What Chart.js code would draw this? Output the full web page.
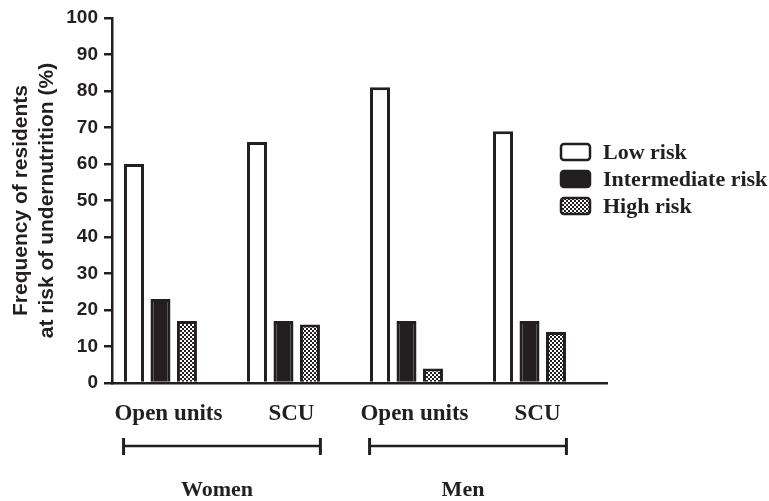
<!DOCTYPE html>
<html>
<head>
<meta charset="utf-8">
<script src="https://cdn.jsdelivr.net/npm/chart.js@4.4.0/dist/chart.umd.min.js"></script>
<style>
html, body { margin: 0; padding: 0; background: #fff; }
</style>
</head>
<body>
<canvas id="riskChart" width="769" height="501"></canvas>
<script>
// values (% of residents)
const units = ['Open units', 'SCU', 'Open units', 'SCU'];
const lowRisk = [60, 66, 81, 69];
const intermediateRisk = [23, 17, 17, 17];
const highRisk = [17, 16, 4, 14];
const seriesNames = ['Low risk', 'Intermediate risk', 'High risk'];
const sexGroups = ['Women', 'Men'];
const groupUnits = [[0, 1], [2, 3]];
const yTitle = ['Frequency of residents', 'at risk of undernutrition (%)'];

const ink = '#231f20';
const serif = '"Liberation Serif", "Times New Roman", serif';
const sans = '"Liberation Sans", Arial, sans-serif';

function checker() {
    const c = document.createElement('canvas');
    c.width = 4; c.height = 4;
    const g = c.getContext('2d');
    g.fillStyle = ink;
    g.fillRect(0, 0, 4, 4);
    g.fillStyle = '#fff';
    g.fillRect(0, 0, 2, 2);
    g.fillRect(2, 2, 2, 2);
    return g.createPattern(c, 'repeat');
}

const toPoints = arr => arr.map((v, i) => ({ x: i, y: v }));

// legend drawn inside the plot, at the right
const sideLegend = {
    id: 'sideLegend',
    afterDraw(chart) {
        const ctx = chart.ctx;
        ctx.save();
        chart.data.datasets.forEach((ds, i) => {
            const y = 152 + i * 27;
            ctx.beginPath();
            ctx.roundRect(561, y - 8, 29, 16, 3);
            ctx.fillStyle = ds.backgroundColor;
            ctx.fill();
            ctx.lineWidth = 2.5;
            ctx.strokeStyle = ink;
            ctx.stroke();
            ctx.fillStyle = ink;
            ctx.font = 'bold 22px ' + serif;
            ctx.textBaseline = 'middle';
            ctx.fillText(ds.label, 603, y + 1);
        });
        ctx.restore();
    }
};

// brackets under the unit labels
const groupBrackets = {
    id: 'groupBrackets',
    afterDraw(chart) {
        const ctx = chart.ctx;
        const x = chart.scales.x;
        ctx.save();
        ctx.strokeStyle = ink;
        ctx.fillStyle = ink;
        groupUnits.forEach((g, i) => {
            const mid = (g[0] + g[1]) / 2;
            const x1 = x.getPixelForValue(mid - 0.8);
            const x2 = x.getPixelForValue(mid + 0.8);
            const y = 446;
            ctx.lineWidth = 2.5;
            ctx.beginPath();
            ctx.moveTo(x1, y); ctx.lineTo(x2, y);
            ctx.stroke();
            ctx.lineWidth = 3;
            ctx.beginPath();
            ctx.moveTo(x1, y - 8); ctx.lineTo(x1, y + 9);
            ctx.moveTo(x2, y - 8); ctx.lineTo(x2, y + 9);
            ctx.stroke();
            ctx.font = 'bold 22px ' + serif;
            ctx.textAlign = 'center';
            ctx.textBaseline = 'middle';
            ctx.fillText(sexGroups[i], (x1 + x2) / 2 - 5, 490);
        });
        ctx.restore();
    }
};

const ctx = document.getElementById('riskChart').getContext('2d');
const riskChart = new Chart(ctx, {
    type: 'bar',
    data: {
        datasets: [{
            label: seriesNames[0],
            data: toPoints(lowRisk),
            backgroundColor: '#fff',
            borderColor: ink,
            borderWidth: 3
        }, {
            label: seriesNames[1],
            data: toPoints(intermediateRisk),
            backgroundColor: ink,
            borderColor: ink,
            borderWidth: 3
        }, {
            label: seriesNames[2],
            data: toPoints(highRisk),
            backgroundColor: checker(),
            borderColor: ink,
            borderWidth: 3
        }]
    },
    options: {
        responsive: false,
        animation: false,
        devicePixelRatio: 1,
        barPercentage: 0.755,
        categoryPercentage: 0.646,
        layout: { padding: { left: 0, top: 18, right: 162, bottom: 0 } },
        plugins: {
            legend: { display: false },
            tooltip: { enabled: false }
        },
        scales: {
            x: {
                type: 'linear',
                offset: false,
                min: -0.394,
                max: 3.63,
                afterBuildTicks: s => { s.ticks = units.map((u, i) => ({ value: i })); },
                afterFit: s => { s.height = 118; },
                ticks: {
                    callback: v => units[v],
                    autoSkip: false,
                    maxRotation: 0,
                    padding: 17,
                    labelOffset: 8,
                    color: ink,
                    font: { family: serif, weight: 'bold', size: 23 }
                },
                grid: { display: false, drawTicks: false, offset: false },
                border: { display: true, color: ink, width: 2.5 }
            },
            y: {
                min: 0,
                max: 100,
                afterFit: s => { s.width = 112; },
                ticks: {
                    stepSize: 10,
                    padding: 6,
                    color: ink,
                    font: { family: sans, weight: 'bold', size: 19 }
                },
                grid: {
                    drawOnChartArea: false,
                    drawTicks: true,
                    tickLength: 8,
                    color: ink,
                    lineWidth: 2.5
                },
                border: { color: ink, width: 2.5 },
                title: {
                    display: true,
                    text: yTitle,
                    color: ink,
                    padding: { top: 9, bottom: 0 },
                    font: { family: sans, weight: 'bold', size: 21 }
                }
            }
        }
    },
    plugins: [sideLegend, groupBrackets]
});
</script>
</body>
</html>
